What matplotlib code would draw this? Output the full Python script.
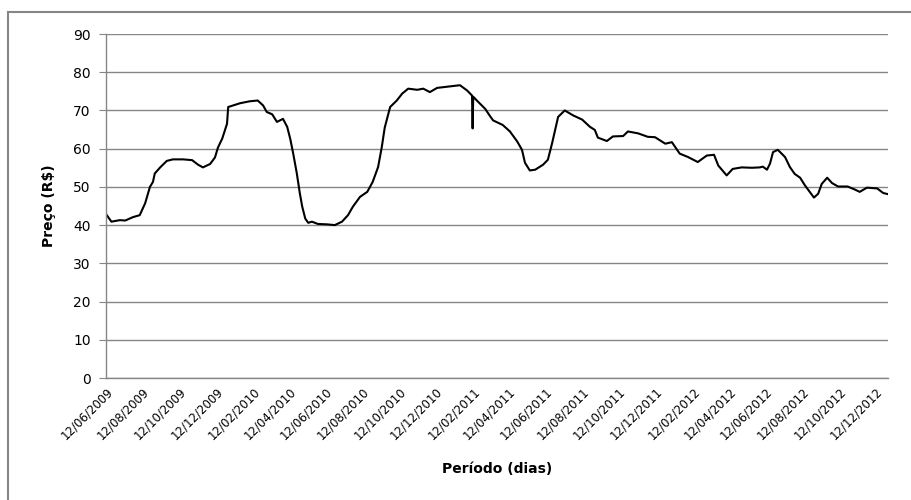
import matplotlib
matplotlib.use("Agg")
import matplotlib.pyplot as plt
import matplotlib.dates as mdates
from matplotlib.lines import Line2D
import pandas as pd

# preços (R$)
datas = [
    "2009-06-12", "2009-06-21", "2009-07-05", "2009-07-14", "2009-07-27", "2009-08-07",
    "2009-08-16", "2009-08-24", "2009-08-29", "2009-09-01", "2009-09-10", "2009-09-21",
    "2009-10-01", "2009-10-18", "2009-11-02", "2009-11-12", "2009-11-20", "2009-12-02",
    "2009-12-10", "2009-12-15", "2009-12-22", "2009-12-28", "2009-12-30", "2010-01-01",
    "2010-01-09", "2010-01-21", "2010-02-06", "2010-02-19", "2010-02-28", "2010-03-06",
    "2010-03-15", "2010-03-23", "2010-03-28", "2010-04-02", "2010-04-09", "2010-04-14",
    "2010-04-19", "2010-04-25", "2010-04-30", "2010-05-04", "2010-05-09", "2010-05-14",
    "2010-05-20", "2010-05-30", "2010-06-14", "2010-06-27", "2010-07-09", "2010-07-19",
    "2010-07-27", "2010-08-08", "2010-08-20", "2010-08-29", "2010-09-07", "2010-09-13",
    "2010-09-18", "2010-09-27", "2010-10-08", "2010-10-17", "2010-10-27", "2010-11-11",
    "2010-11-21", "2010-12-02", "2010-12-14", "2010-12-30", "2011-01-09", "2011-01-21",
    "2011-02-02", "2011-02-10", "2011-02-11", "2011-02-12", "2011-02-18", "2011-03-04",
    "2011-03-12", "2011-03-17", "2011-04-02", "2011-04-14", "2011-04-26", "2011-05-04",
    "2011-05-09", "2011-05-17", "2011-05-26", "2011-06-08", "2011-06-16", "2011-06-23",
    "2011-06-28", "2011-07-03", "2011-07-14", "2011-07-28", "2011-08-12", "2011-08-25",
    "2011-09-02", "2011-09-07", "2011-09-22", "2011-10-02", "2011-10-19", "2011-10-27",
    "2011-11-13", "2011-11-29", "2011-12-11", "2011-12-28", "2012-01-08", "2012-01-21",
    "2012-02-04", "2012-02-20", "2012-03-06", "2012-03-18", "2012-03-25", "2012-04-08",
    "2012-04-18", "2012-05-03", "2012-05-20", "2012-06-02", "2012-06-07", "2012-06-14",
    "2012-06-19", "2012-06-24", "2012-07-02", "2012-07-14", "2012-07-22", "2012-07-30",
    "2012-08-08", "2012-08-16", "2012-08-24", "2012-08-31", "2012-09-07", "2012-09-13",
    "2012-09-22", "2012-09-30", "2012-10-10", "2012-10-26", "2012-11-07", "2012-11-15",
    "2012-11-27", "2012-12-14", "2012-12-24", "2013-01-01",
]
precos = [
    42.9, 40.9, 41.3, 41.2, 42.1, 42.6,
    45.7, 50.0, 51.3, 53.5, 55.1, 56.8,
    57.2, 57.2, 57.0, 55.8, 55.1, 56.0,
    57.7, 60.3, 62.6, 65.5, 66.5, 70.9,
    71.3, 71.9, 72.4, 72.6, 71.3, 69.6,
    69.0, 67.0, 67.4, 67.8, 65.7, 62.6,
    58.7, 53.5, 48.3, 44.8, 41.7, 40.6,
    40.9, 40.3, 40.2, 40.0, 40.9, 42.6,
    44.8, 47.4, 48.7, 51.3, 55.2, 60.3,
    65.5, 70.9, 72.6, 74.4, 75.7, 75.4,
    75.7, 74.8, 75.9, 76.2, 76.4, 76.6,
    75.2, 73.9, 65.3, 73.6, 72.6, 70.4,
    68.5, 67.4, 66.2, 64.5, 61.9, 59.7,
    56.3, 54.3, 54.5, 55.8, 57.1, 61.4,
    64.9, 68.3, 70.0, 68.7, 67.6, 65.7,
    64.9, 62.9, 62.0, 63.2, 63.3, 64.5,
    64.0, 63.1, 63.0, 61.3, 61.7, 58.7,
    57.8, 56.5, 58.2, 58.4, 55.6, 53.0,
    54.7, 55.1, 55.0, 55.1, 55.3, 54.5,
    56.1, 59.1, 59.7, 57.8, 55.2, 53.4,
    52.4, 50.4, 48.7, 47.2, 48.2, 50.8,
    52.4, 51.0, 50.1, 50.1, 49.3, 48.7,
    49.8, 49.6, 48.4, 48.1,
]

datas = pd.to_datetime(datas)
ticks_x = pd.date_range("2009-06-12", periods=22, freq=pd.DateOffset(months=2))

cinza = "#868686"

fig = plt.figure(figsize=(9.12, 5.0), dpi=100)
ax = fig.add_axes([106 / 912, 1 - 378 / 500, (888 - 106) / 912, (378 - 34) / 500])

ax.plot(datas, precos, color="black", linewidth=1.5)

ax.set_ylim(0, 90)
ax.set_yticks(range(0, 91, 10))
ax.set_xlim(datas[0], datas[-1])
ax.set_xticks(ticks_x)
ax.xaxis.set_major_formatter(mdates.DateFormatter("%d/%m/%Y"))

ax.grid(axis="y", color=cinza, linewidth=1.0)
ax.set_axisbelow(True)
for lado in ["top", "right"]:
    ax.spines[lado].set_visible(False)
for lado in ["left", "bottom"]:
    ax.spines[lado].set_color(cinza)
    ax.spines[lado].set_linewidth(1.0)

ax.tick_params(axis="y", length=5, color=cinza, labelsize=10, pad=6)
ax.tick_params(axis="x", length=0, labelsize=8.5, pad=5)
plt.setp(ax.get_xticklabels(), rotation=45, ha="right", rotation_mode="anchor")

ax.set_ylabel("Preço (R$)", fontsize=10, fontweight="bold", labelpad=12)
ax.set_xlabel("Período (dias)", fontsize=10, fontweight="bold", labelpad=14)

# moldura do gráfico
fig.add_artist(Line2D([8 / 912, 8 / 912], [0, 1 - 12 / 500], color=cinza, linewidth=1.5,
                      transform=fig.transFigure))
fig.add_artist(Line2D([8 / 912, 1], [1 - 12 / 500, 1 - 12 / 500], color=cinza, linewidth=1.5,
                      transform=fig.transFigure))

fig.savefig("out.png", dpi=100)
